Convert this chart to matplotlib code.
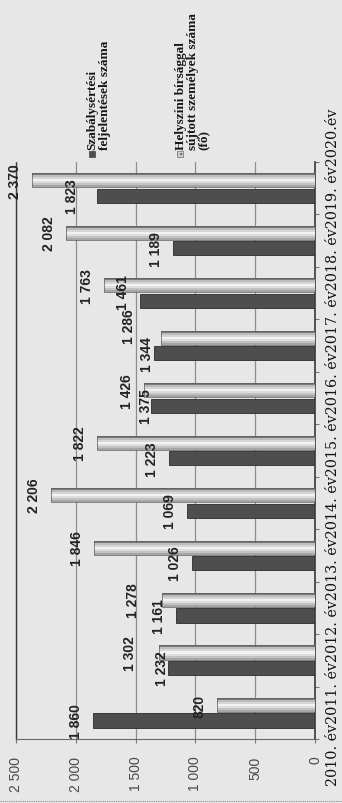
import numpy as np
import matplotlib
matplotlib.use("Agg")
import matplotlib.pyplot as plt
from matplotlib.patches import Rectangle

# --- data ---------------------------------------------------------------
years = ["2010. év", "2011. év", "2012. év", "2013. év", "2014. év", "2015. év",
         "2016. év", "2017. év", "2018. év", "2019. év", "2020.év"]
feljelentesek = [1860, 1232, 1161, 1026, 1069, 1223, 1375, 1344, 1461, 1189, 1823]
birsag = [820, 1302, 1278, 1846, 2206, 1822, 1426, 1286, 1763, 2082, 2370]
series_names = ["Szabálysértési\nfeljelentések száma",
                "Helyszíni bírsággal\nsújtott személyek száma\n(fő)"]
value_ticks = [0, 500, 1000, 1500, 2000, 2500]


def fmt(v):
    return f"{v:,}".replace(",", " ")


W, H = 342, 804
BG = "#e7e7e7"
fig = plt.figure(figsize=(W / 100, H / 100), dpi=100, facecolor=BG)


def fx(px):
    return px / W


def fy(py):
    return 1 - py / H


ax = fig.add_axes([fx(16), fy(740), fx(315) - fx(16), fy(163) - fy(740)])
ax.set_facecolor(BG)

idx = np.arange(len(years))
off_dark, off_light, bh = -0.147, 0.149, 0.27

# value gridlines (value axis runs right-to-left)
ax.set_xlim(2500, 0)
ax.set_ylim(-0.5, len(years) - 0.5)
ax.set_xticks(value_ticks)
ax.set_xticklabels([fmt(v) for v in value_ticks])
ax.grid(axis="x", color="#8e8e8e", lw=0.9, zorder=0)
ax.set_axisbelow(True)

# dark series
ax.barh(idx + off_dark, feljelentesek, height=bh, color="#4e4e4e",
        edgecolor="#2c2c2c", lw=0.6, zorder=2)

# light series drawn as shaded cylinder bands
band_cols = ["#7a7a7a", "#bcbcbc", "#d6d6d6", "#f2f2f2", "#dedede",
             "#c2c2c2", "#a6a6a6"]
nb = len(band_cols)
bw = bh / nb
for k, c in enumerate(band_cols):
    yk = idx + off_light + bh / 2 - (k + 0.5) * bw
    ax.barh(yk, birsag, height=bw, color=c, lw=0, zorder=3)
ax.barh(idx + off_light, birsag, height=bh, facecolor="none",
        edgecolor="#5a5a5a", lw=0.5, zorder=4)

# data labels
dark_nudge = {1: (11, 0), 6: (12, 0), 7: (10, 0), 8: (0, 9), 10: (-8, 0)}
light_nudge = {1: (-12, 0), 2: (-12, 0), 7: (-15, 12)}
for i, v in enumerate(feljelentesek):
    dx, dy = dark_nudge.get(i, (0, 0))
    ax.annotate(fmt(v), xy=(v, i + off_dark), xytext=(-17 + dx, dy),
                textcoords="offset pixels", rotation=90, ha="center",
                va="center", fontsize=10, fontweight="bold",
                family="Liberation Sans", color="#232323", zorder=6)
for i, v in enumerate(birsag):
    dx, dy = light_nudge.get(i, (0, 0))
    ax.annotate(fmt(v), xy=(v, i + off_light), xytext=(-17 + dx, dy),
                textcoords="offset pixels", rotation=90, ha="center",
                va="center", fontsize=10, fontweight="bold",
                family="Liberation Sans", color="#232323", zorder=6)

# frame
ax.spines["top"].set_visible(False)
ax.spines["left"].set_linestyle((0, (1, 1)))
ax.spines["left"].set_color("#3a3a3a")
ax.spines["left"].set_linewidth(1.0)
ax.spines["bottom"].set_linestyle((0, (1, 1)))
ax.spines["bottom"].set_color("#6a6a6a")
ax.spines["right"].set_color("#3a3a3a")
ax.spines["right"].set_linewidth(1.2)

ax.tick_params(axis="x", length=3, color="#777777", labelsize=10,
               labelcolor="#4a4a4a", pad=9, labelrotation=90)
for t in ax.get_xticklabels():
    t.set_family("Liberation Sans")

ax.yaxis.tick_right()
ax.set_yticks(np.arange(-0.5, len(years), 1.0))
ax.set_yticklabels([])
ax.tick_params(axis="y", length=3, color="#777777")

# category labels along the right edge
fig.text(fx(333), fy(447.5), "".join(years), rotation=90, ha="center",
         va="center", fontsize=10.3, family="DejaVu Serif", color="#111111")

# legend
fig.patches.append(Rectangle((fx(89), fy(158)), fx(6), fy(0) - fy(6),
                             transform=fig.transFigure, facecolor="#4e4e4e",
                             edgecolor="#2c2c2c", lw=0.4))
fig.patches.append(Rectangle((fx(177), fy(158)), fx(6), fy(0) - fy(6),
                             transform=fig.transFigure, facecolor="#cfcfcf",
                             edgecolor="#5a5a5a", lw=0.4, hatch="...."))
fig.text(fx(86), fy(150), series_names[0], rotation=90, ha="left",
         va="bottom", multialignment="left", fontsize=9.5, fontweight="bold",
         family="Liberation Serif", color="#161616", linespacing=1.1)
fig.text(fx(175), fy(150), series_names[1], rotation=90, ha="left",
         va="bottom", multialignment="left", fontsize=9.5, fontweight="bold",
         family="Liberation Serif", color="#161616", linespacing=0.95)

# faint scan border at the bottom
fig.add_artist(plt.Line2D([0, 1], [fy(802), fy(802)], transform=fig.transFigure,
                          color="#8a8a8a", lw=0.8, ls=(0, (1, 1))))

fig.savefig("out.png", dpi=100, facecolor=BG)
